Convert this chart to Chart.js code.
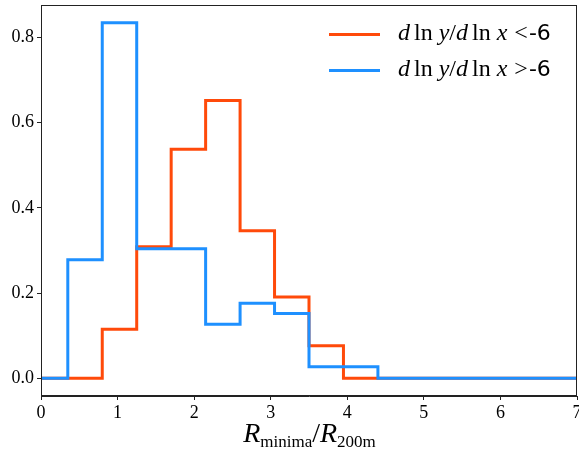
<!DOCTYPE html>
<html>
<head>
<meta charset="utf-8">
<script src="https://cdn.jsdelivr.net/npm/chart.js@4.4.1/dist/chart.umd.min.js"></script>
<style>
    html, body { margin: 0; padding: 0; background: #fff; }
    #wrap { position: relative; width: 579px; height: 451px; }
    #chart { position: absolute; left: 0; top: 0; }
    .serif { font-family: "Liberation Serif", "DejaVu Serif", serif; color: #000; }
    #xtitle { position: absolute; left: 0; width: 619px; top: 417px; text-align: center; font-size: 28px; white-space: nowrap; }
    #xtitle i { font-style: italic; }
    #xtitle sub { font-size: 17px; font-style: normal; vertical-align: -5px; }
    .leg { position: absolute; left: 329px; font-size: 24px; white-space: nowrap; }
    .leg .swatch { display: inline-block; width: 51px; height: 3px; vertical-align: middle; margin-right: 18px; }
    .leg i { font-style: italic; }
    .leg .sp { margin-left: 4px; }
    .leg .rel { margin-left: 7px; margin-right: 1px; }
    .leg .sans { font-family: "DejaVu Sans", sans-serif; font-size: 22px; }
</style>
</head>
<body>
<div id="wrap">
    <canvas id="chart" width="579" height="451"></canvas>
    <div id="xtitle" class="serif"><i>R</i><sub>minima</sub>/<i>R</i><sub>200m</sub></div>
    <div class="leg serif" style="top:19px"><span class="swatch" style="background:#ff4a0a"></span><i>d</i><span class="sp">ln</span> <i>y</i>/<i>d</i><span class="sp">ln</span> <i>x</i><span class="rel">&lt;</span><span class="sans">-6</span></div>
    <div class="leg serif" style="top:55px"><span class="swatch" style="background:#1e90ff"></span><i>d</i><span class="sp">ln</span> <i>y</i>/<i>d</i><span class="sp">ln</span> <i>x</i><span class="rel">&gt;</span><span class="sans">-6</span></div>
</div>
<script>
// bin edges (step starts), last point closes the line at x = 7
const edges = [0, 0.35, 0.80, 1.25, 1.70, 2.15, 2.60, 3.05, 3.50, 3.95, 4.40, 7];
const steepVals = [0, 0, 0.115, 0.3085, 0.5375, 0.652, 0.346, 0.191, 0.0765, 0, 0, 0];
const shallowVals = [0, 0.278, 0.834, 0.304, 0.304, 0.127, 0.176, 0.152, 0.027, 0.027, 0, 0];
const xTicks = [0, 1, 2, 3, 4, 5, 6, 7];
const yTicks = [0.0, 0.2, 0.4, 0.6, 0.8];

const RED = '#ff4a0a';
const BLUE = '#1e90ff';
const tickFont = { family: '"Liberation Serif", "DejaVu Serif", serif', size: 18 };

const toPoints = vals => edges.map((x, i) => ({ x, y: vals[i] }));

// draw the full axes frame (matplotlib style box)
const frame = {
    id: 'frame',
    afterDatasetsDraw(chart) {
        const a = chart.chartArea;
        const ctx = chart.ctx;
        ctx.save();
        ctx.strokeStyle = '#222';
        ctx.lineWidth = 1;
        ctx.strokeRect(a.left + 0.5, a.top + 0.5, a.right - a.left - 1, a.bottom - a.top - 1);
        ctx.restore();
    }
};

new Chart(document.getElementById('chart'), {
    type: 'scatter',
    data: {
        datasets: [
            {
                label: 'steep',
                data: toPoints(steepVals),
                showLine: true,
                stepped: 'before',
                borderColor: RED,
                borderWidth: 3,
                pointRadius: 0,
                order: 1
            },
            {
                label: 'shallow',
                data: toPoints(shallowVals),
                showLine: true,
                stepped: 'before',
                borderColor: BLUE,
                borderWidth: 3,
                pointRadius: 0,
                order: 0
            }
        ]
    },
    options: {
        responsive: false,
        animation: false,
        layout: { padding: { top: 5, right: 2, left: 0, bottom: 0 } },
        plugins: { legend: { display: false }, tooltip: { enabled: false } },
        scales: {
            x: {
                type: 'linear',
                min: 0,
                max: 7,
                afterBuildTicks: s => { s.ticks = xTicks.map(v => ({ value: v })); },
                afterFit: s => { s.height = 55; s.paddingRight = 0; s.paddingLeft = 0; },
                grid: { drawOnChartArea: false, drawTicks: true, tickLength: 4, color: '#222' },
                border: { color: '#222' },
                ticks: { font: tickFont, color: '#000', padding: 2, maxRotation: 0, callback: v => String(v) }
            },
            y: {
                type: 'linear',
                min: -0.0415,
                max: 0.8758,
                afterBuildTicks: s => { s.ticks = yTicks.map(v => ({ value: v })); },
                afterFit: s => { s.width = 41; s.paddingTop = 0; s.paddingBottom = 0; },
                grid: { drawOnChartArea: false, drawTicks: true, tickLength: 4, color: '#222' },
                border: { color: '#222' },
                ticks: { font: tickFont, color: '#000', padding: 3, callback: v => v.toFixed(1) }
            }
        }
    },
    plugins: [frame]
});
</script>
</body>
</html>
